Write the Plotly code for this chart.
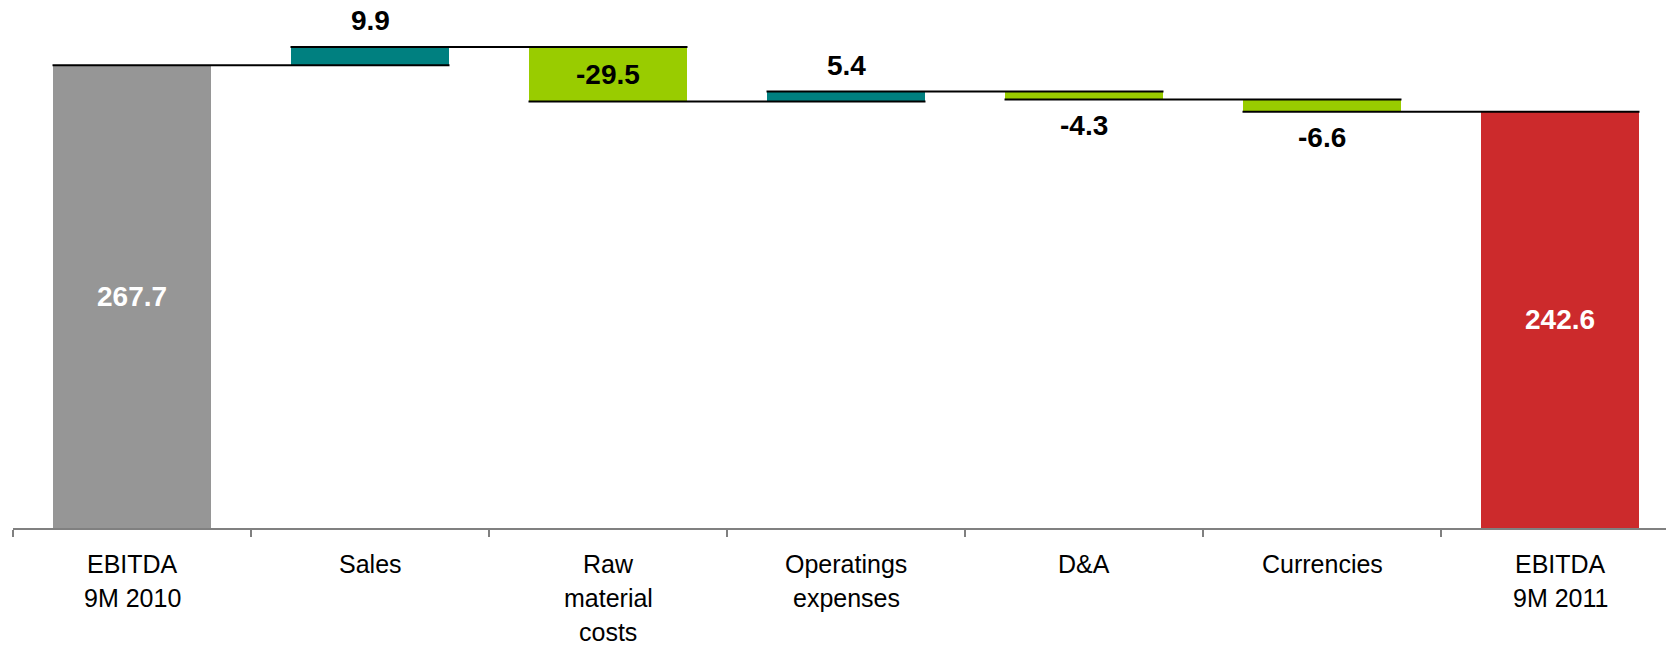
import plotly.graph_objects as go

# ---- data ----
category_lines = [
    ["EBITDA", "9M 2010"],
    ["Sales"],
    ["Raw", "material", "costs"],
    ["Operatings", "expenses"],
    ["D&A"],
    ["Currencies"],
    ["EBITDA", "9M 2011"],
]
values = [267.7, 9.9, -29.5, 5.4, -4.3, -6.6, 242.6]
kinds = ["total", "delta", "delta", "delta", "delta", "delta", "total"]
value_labels = ["267.7", "9.9", "-29.5", "5.4", "-4.3", "-6.6", "242.6"]

# ---- style ----
total_colors = {0: "#969696", 6: "#CC2A2C"}
pos_color = "#008080"
neg_color = "#99CC00"
bar_w = 0.668
Y_MIN, Y_MAX = 17.6, 303.0
W, H = 1666, 646
M_L, M_R, M_T, M_B = 13, 0, 0, 118
FONT = "Liberation Sans, Arial, sans-serif"
VAL_SIZE = 28
CAT_SIZE = 25

n = len(values)
xs = list(range(n))
bases, heights, colors, ends = [], [], [], []
level = 0.0
for i, (v, k) in enumerate(zip(values, kinds)):
    if k == "total":
        bases.append(0.0)
        heights.append(v)
        colors.append(total_colors.get(i, "#969696"))
        level = v
    else:
        bases.append(min(level, level + v))
        heights.append(abs(v))
        colors.append(pos_color if v > 0 else neg_color)
        level = level + v
    ends.append(level)

fig = go.Figure()
fig.add_trace(go.Bar(
    x=xs, y=heights, base=bases, width=bar_w,
    marker=dict(color=colors, line=dict(width=0)),
    hoverinfo="skip", showlegend=False,
))

# connectors
cx, cy = [], []
for i in range(n - 1):
    cx += [i - bar_w / 2, i + 1 + bar_w / 2, None]
    cy += [ends[i], ends[i], None]
fig.add_trace(go.Scatter(x=cx, y=cy, mode="lines",
                         line=dict(color="black", width=2),
                         hoverinfo="skip", showlegend=False))

plot_h = H - M_T - M_B
px_per_unit = plot_h / (Y_MAX - Y_MIN)

annotations = []
for i, (v, k) in enumerate(zip(values, kinds)):
    lo = max(bases[i], Y_MIN)
    hi = bases[i] + heights[i]
    txt = f"<b>{value_labels[i]}</b>"
    if k == "total":
        annotations.append(dict(x=i, y=(lo + hi) / 2, text=txt, showarrow=False,
                                font=dict(family=FONT, size=VAL_SIZE, color="white")))
    elif heights[i] * px_per_unit > 40:
        annotations.append(dict(x=i, y=(lo + hi) / 2, text=txt, showarrow=False,
                                font=dict(family=FONT, size=VAL_SIZE, color="black")))
    elif v > 0:
        annotations.append(dict(x=i, y=hi, yshift=26, text=txt, showarrow=False,
                                font=dict(family=FONT, size=VAL_SIZE, color="black")))
    else:
        annotations.append(dict(x=i, y=lo, yshift=-26, text=txt, showarrow=False,
                                font=dict(family=FONT, size=VAL_SIZE, color="black")))

# category labels (one annotation per line)
line_gap = 34
first_line_offset = 36
for i, lines in enumerate(category_lines):
    for j, t in enumerate(lines):
        annotations.append(dict(x=i, y=Y_MIN, yref="y", text=t, showarrow=False,
                                yshift=-(first_line_offset + j * line_gap),
                                font=dict(family=FONT, size=CAT_SIZE, color="black")))

x_hi = -0.5 + (W - M_L - M_R) / 238.0
fig.update_layout(
    width=W, height=H,
    margin=dict(l=M_L, r=M_R, t=M_T, b=M_B),
    paper_bgcolor="white", plot_bgcolor="white",
    bargap=0, showlegend=False, hovermode=False,
    xaxis=dict(range=[-0.5, x_hi], tickmode="array",
               tickvals=[i - 0.5 for i in range(n)], ticktext=["" for _ in range(n)],
               ticks="outside", ticklen=7, tickcolor="#808080", tickwidth=1.5,
               showline=True, linecolor="#808080", linewidth=1.5,
               showgrid=False, zeroline=False, fixedrange=True),
    yaxis=dict(range=[Y_MIN, Y_MAX], visible=False, showgrid=False, zeroline=False,
               fixedrange=True),
    annotations=annotations,
)

fig.write_html("out.html",
               config={"displayModeBar": False, "staticPlot": True},
               post_script="document.body.style.margin='0';document.body.style.padding='0';document.body.style.overflow='hidden';")
